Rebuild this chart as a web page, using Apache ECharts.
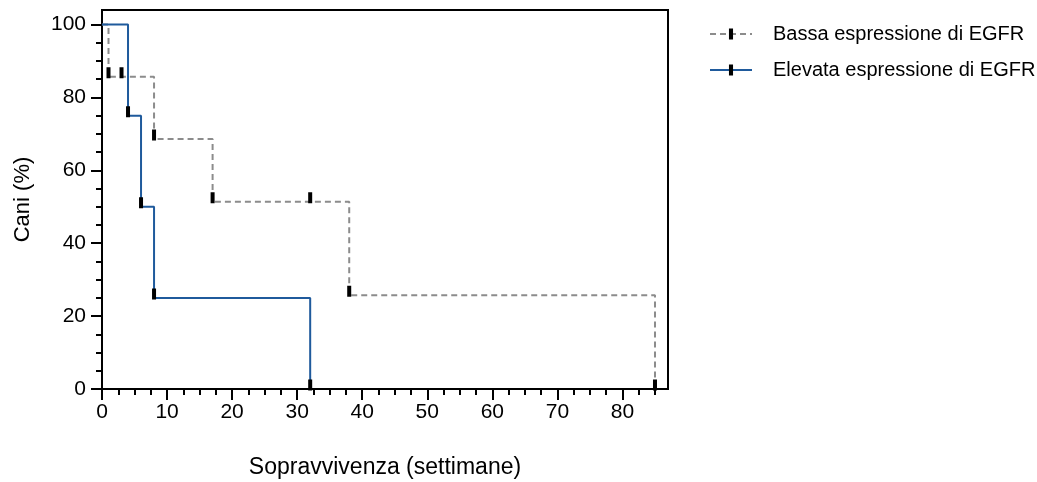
<!DOCTYPE html>
<head>
    <meta charset="utf-8">
    <title>ECharts</title>
    <script src="https://cdn.jsdelivr.net/npm/echarts@6/dist/echarts.min.js"></script>
    <style>
        html, body { margin: 0; padding: 0; background: #fff; }
    </style>
</head>
<body>
    <div id="main" style="width:1037px;height:482px"></div>
    <script type="text/javascript">
        // survival data (weeks, % alive)
        var bassaWeeks = [0, 1, 3, 8, 17, 32, 38, 85];
        var bassaSurv  = [100, 85.7, 85.7, 68.6, 51.4, 51.4, 25.7, 0];
        var elevWeeks  = [0, 4, 6, 8, 32];
        var elevSurv   = [100, 75, 50, 25, 0];

        var seriesNames = ['Bassa espressione di EGFR', 'Elevata espressione di EGFR'];
        var xMajor = [0, 10, 20, 30, 40, 50, 60, 70, 80];
        var xMinor = [2.5, 5, 7.5, 12.5, 15, 17.5, 22.5, 25, 27.5, 32.5, 35, 37.5, 42.5, 45, 47.5,
                      52.5, 55, 57.5, 62.5, 65, 67.5, 72.5, 75, 77.5, 82.5, 85];
        var yMajor = [0, 20, 40, 60, 80, 100];
        var yMinor = [5, 10, 15, 25, 30, 35, 45, 50, 55, 65, 70, 75, 85, 90, 95];

        function pairs(xs, ys) {
            var out = [];
            for (var i = 0; i < xs.length; i++) {
                var p = {value: [xs[i], ys[i]]};
                if (i === 0) p.symbol = 'none';   // no censor mark at start
                out.push(p);
            }
            return out;
        }

        var font = "'Liberation Sans', Arial, sans-serif";
        // censor tick: narrow bar inside a square box (so the legend icon keeps its shape)
        var censor = 'path://M0,0L0.01,0L0.01,0.01Z M3.5,0L7.5,0L7.5,11L3.5,11Z M11,11L10.99,11L10.99,10.99Z';
        var myChart = echarts.init(document.getElementById('main'));

        var option = {
            animation: false,
            textStyle: {fontFamily: font, color: '#000'},
            grid: {
                left: 102, top: 10, width: 566, height: 379,
                outerBoundsMode: 'none', containLabel: false,
                show: true, borderColor: '#000', borderWidth: 2
            },
            legend: {
                orient: 'vertical',
                left: 704, top: 19,
                itemWidth: 42, itemHeight: 14, itemGap: 16,
                textStyle: {fontSize: 20, color: '#000', fontFamily: font, padding: [0, 0, 0, 16]},
                data: seriesNames
            },
            xAxis: [
                {
                    type: 'value', min: 0, max: 87,
                    name: 'Sopravvivenza (settimane)', nameLocation: 'middle', nameGap: 67,
                    nameTextStyle: {fontSize: 23, color: '#000'},
                    axisLine: {lineStyle: {color: '#000', width: 2}},
                    axisTick: {customValues: xMajor, length: 11, lineStyle: {color: '#000', width: 2}},
                    axisLabel: {customValues: xMajor, fontSize: 21, color: '#000', margin: 13},
                    splitLine: {show: false}
                },
                {
                    type: 'value', min: 0, max: 87, position: 'bottom',
                    axisLine: {show: false},
                    axisTick: {customValues: xMinor, length: 6, lineStyle: {color: '#000', width: 2}},
                    axisLabel: {show: false},
                    splitLine: {show: false}
                }
            ],
            yAxis: [
                {
                    type: 'value', min: 0, max: 104, position: 'left',
                    name: 'Cani (%)', nameLocation: 'middle', nameGap: 68,
                    nameTextStyle: {fontSize: 22, color: '#000'},
                    axisLine: {lineStyle: {color: '#000', width: 2}},
                    axisTick: {customValues: yMajor, length: 11, lineStyle: {color: '#000', width: 2}},
                    axisLabel: {customValues: yMajor, fontSize: 21, color: '#000', margin: 16},
                    splitLine: {show: false}
                },
                {
                    type: 'value', min: 0, max: 104, position: 'left',
                    axisLine: {show: false},
                    axisTick: {customValues: yMinor, length: 6, lineStyle: {color: '#000', width: 2}},
                    axisLabel: {show: false},
                    splitLine: {show: false}
                }
            ],
            series: [
                {
                    name: seriesNames[0],
                    type: 'line', step: 'end',
                    symbol: censor, symbolSize: 11, symbolOffset: [0, -4],
                    itemStyle: {color: '#000', borderWidth: 0},
                    lineStyle: {color: '#8c8c8c', width: 2, type: [6, 4]},
                    data: pairs(bassaWeeks, bassaSurv),
                    z: 2
                },
                {
                    name: seriesNames[1],
                    type: 'line', step: 'end',
                    symbol: censor, symbolSize: 11, symbolOffset: [0, -4],
                    itemStyle: {color: '#000', borderWidth: 0},
                    lineStyle: {color: '#1f5a9c', width: 2},
                    data: pairs(elevWeeks, elevSurv),
                    z: 3
                }
            ]
        };

        myChart.setOption(option);
    </script>
</body>
